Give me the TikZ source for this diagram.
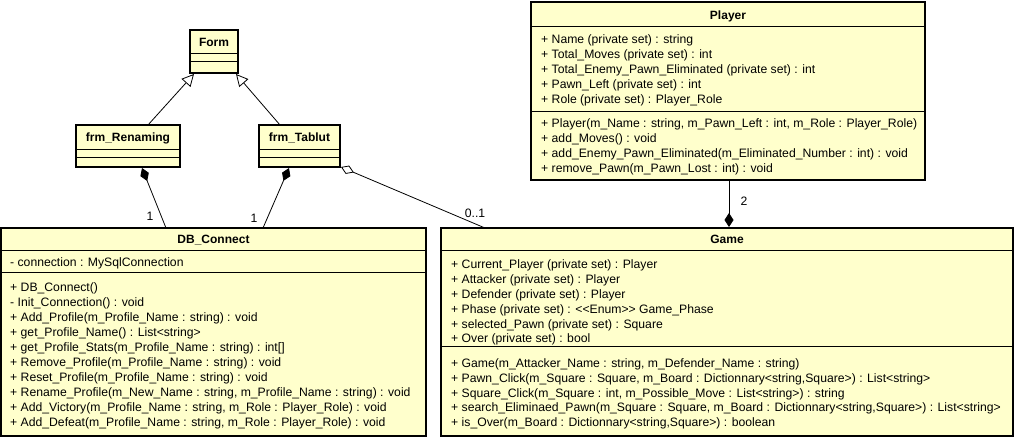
\documentclass[tikz,border=0pt]{standalone}
\usepackage{fontspec}
\setmainfont{Liberation Sans}
\usetikzlibrary{arrows.meta,calc}
\definecolor{classfill}{HTML}{FFFFCC}
\begin{document}
\begin{tikzpicture}[x=1pt,y=-1pt,
  cls/.style={draw=black, line width=2pt, fill=classfill, inner sep=0pt, outer sep=0pt, anchor=north west},
  sep/.style={line width=0.8pt},
  ttl/.style={font=\fontsize{12}{14}\selectfont\bfseries, inner sep=0pt, anchor=base},
  mem/.style={font=\fontsize{12.2}{14}\selectfont, inner sep=0pt, anchor=base west},
  lbl/.style={font=\fontsize{12.2}{14}\selectfont, inner sep=0pt},
  conn/.style={line width=0.8pt},
  inh/.style={conn, -{Triangle[open, length=12pt, width=12pt, fill=white]}},
  comp/.style={conn, -{Diamond[length=14pt, width=9pt]}},
  aggr/.style={conn, -{Diamond[open, length=14pt, width=9pt, fill=white]}},
]
\useasboundingbox (0,0) rectangle (1018,438);

% ---------- Form ----------
\node[cls, minimum width=48pt, minimum height=43pt] (form) at (190,30) {};
\draw[sep] ($(form.north west)+(0,23)$) -- ($(form.north east)+(0,23)$);
\draw[sep] ($(form.north west)+(0,31)$) -- ($(form.north east)+(0,31)$);
\node[ttl] (formT) at (214,46.5) {Form};

% ---------- frm_Renaming ----------
\node[cls, minimum width=104pt, minimum height=42pt] (frmR) at (76,125) {};
\draw[sep] ($(frmR.north west)+(0,24)$) -- ($(frmR.north east)+(0,24)$);
\draw[sep] ($(frmR.north west)+(0,32)$) -- ($(frmR.north east)+(0,32)$);
\node[ttl] (frmRT) at (128,141.8) {frm\_Renaming};

% ---------- frm_Tablut ----------
\node[cls, minimum width=81pt, minimum height=42pt] (frmT) at (259,125) {};
\draw[sep] ($(frmT.north west)+(0,24)$) -- ($(frmT.north east)+(0,24)$);
\draw[sep] ($(frmT.north west)+(0,32)$) -- ($(frmT.north east)+(0,32)$);
\node[ttl] (frmTT) at (299.5,141.8) {frm\_Tablut};

% ---------- Player ----------
\node[cls, minimum width=394pt, minimum height=178pt] (player) at (531,2) {};
\draw[sep] ($(player.north west)+(0,24)$) -- ($(player.north east)+(0,24)$);
\draw[sep] ($(player.north west)+(0,109)$) -- ($(player.north east)+(0,109)$);
\node[ttl] (playerT) at (728,19.3) {Player};
\node[mem] (pa1) at (541,43.9) {+ Name (private set) : string};
\node[mem] (pa2) at (541,58.9) {+ Total\_Moves (private set) : int};
\node[mem] (pa3) at (541,73.9) {+ Total\_Enemy\_Pawn\_Eliminated (private set) : int};
\node[mem] (pa4) at (541,88.9) {+ Pawn\_Left (private set) : int};
\node[mem] (pa5) at (541,103.9) {+ Role (private set) : Player\_Role};
\node[mem] (pm1) at (541,127.9) {+ Player(m\_Name : string, m\_Pawn\_Left : int, m\_Role : Player\_Role)};
\node[mem] (pm2) at (541,142.7) {+ add\_Moves() : void};
\node[mem] (pm3) at (541,157.4) {+ add\_Enemy\_Pawn\_Eliminated(m\_Eliminated\_Number : int) : void};
\node[mem] (pm4) at (541,172.1) {+ remove\_Pawn(m\_Pawn\_Lost : int) : void};

% ---------- DB_Connect ----------
\node[cls, minimum width=425pt, minimum height=208pt] (db) at (1,228) {};
\draw[sep] ($(db.north west)+(0,22.5)$) -- ($(db.north east)+(0,22.5)$);
\draw[sep] ($(db.north west)+(0,44)$) -- ($(db.north east)+(0,44)$);
\node[ttl] (dbT) at (213.5,243.3) {DB\_Connect};
\node[mem] (da1) at (10,266.4) {- connection : MySqlConnection};
\node[mem] (dm1) at (10,291.1) {+ DB\_Connect()};
\node[mem] (dm2) at (10,306.1) {- Init\_Connection() : void};
\node[mem] (dm3) at (10,321.1) {+ Add\_Profile(m\_Profile\_Name : string) : void};
\node[mem] (dm4) at (10,336.1) {+ get\_Profile\_Name() : List<string>};
\node[mem] (dm5) at (10,351.1) {+ get\_Profile\_Stats(m\_Profile\_Name : string) : int[]};
\node[mem] (dm6) at (10,366.1) {+ Remove\_Profile(m\_Profile\_Name : string) : void};
\node[mem] (dm7) at (10,381.1) {+ Reset\_Profile(m\_Profile\_Name : string) : void};
\node[mem] (dm8) at (10,396.1) {+ Rename\_Profile(m\_New\_Name : string, m\_Profile\_Name : string) : void};
\node[mem] (dm9) at (10,411.1) {+ Add\_Victory(m\_Profile\_Name : string, m\_Role : Player\_Role) : void};
\node[mem] (dm10) at (10,426.1) {+ Add\_Defeat(m\_Profile\_Name : string, m\_Role : Player\_Role) : void};

% ---------- Game ----------
\node[cls, minimum width=572pt, minimum height=208pt] (game) at (441,228) {};
\draw[sep] ($(game.north west)+(0,22.5)$) -- ($(game.north east)+(0,22.5)$);
\draw[sep] ($(game.north west)+(0,118)$) -- ($(game.north east)+(0,118)$);
\node[ttl] (gameT) at (727,243.3) {Game};
\node[mem] (ga1) at (451,268.9) {+ Current\_Player (private set) : Player};
\node[mem] (ga2) at (451,283.7) {+ Attacker (private set) : Player};
\node[mem] (ga3) at (451,298.5) {+ Defender (private set) : Player};
\node[mem] (ga4) at (451,313.3) {+ Phase (private set) : <{}<Enum>{}> Game\_Phase};
\node[mem] (ga5) at (451,328.1) {+ selected\_Pawn (private set) : Square};
\node[mem] (ga6) at (451,342.9) {+ Over (private set) : bool};
\node[mem] (gm1) at (451,367.9) {+ Game(m\_Attacker\_Name : string, m\_Defender\_Name : string)};
\node[mem] (gm2) at (451,382.6) {+ Pawn\_Click(m\_Square : Square, m\_Board : Dictionnary<string,Square>) : List<string>};
\node[mem] (gm3) at (451,397.3) {+ Square\_Click(m\_Square : int, m\_Possible\_Move : List<string>) : string};
\node[mem] (gm4) at (451,412.0) {+ search\_Eliminaed\_Pawn(m\_Square : Square, m\_Board : Dictionnary<string,Square>) : List<string>};
\node[mem] (gm5) at (451,426.7) {+ is\_Over(m\_Board : Dictionnary<string,Square>) : boolean};

% ---------- Connectors ----------
\draw[inh] ($(frmR.north west)+(72,0)$) -- ($(form.south west)+(4,1)$);
\draw[inh] ($(frmT.north west)+(21,0)$) -- ($(form.south east)+(-2,1)$);
\draw[comp] ($(db.north west)+(165,0)$) -- ($(frmR.south west)+(66,1)$);
\draw[comp] ($(db.north west)+(262,0)$) -- ($(frmT.south west)+(30,1)$);
\draw[aggr] ($(game.north west)+(44,0)$) -- ($(frmT.south east)+(1,0)$);
\draw[comp] ($(player.south west)+(198,0)$) -- ($(game.north west)+(288,-1)$);

% ---------- Multiplicities ----------
\node[lbl] (m1) at (150,216.5) {1};
\node[lbl] (m2) at (254,218) {1};
\node[lbl] (m3) at (475,213) {0..1};
\node[lbl] (m4) at (744,201) {2};
\end{tikzpicture}
\end{document}
